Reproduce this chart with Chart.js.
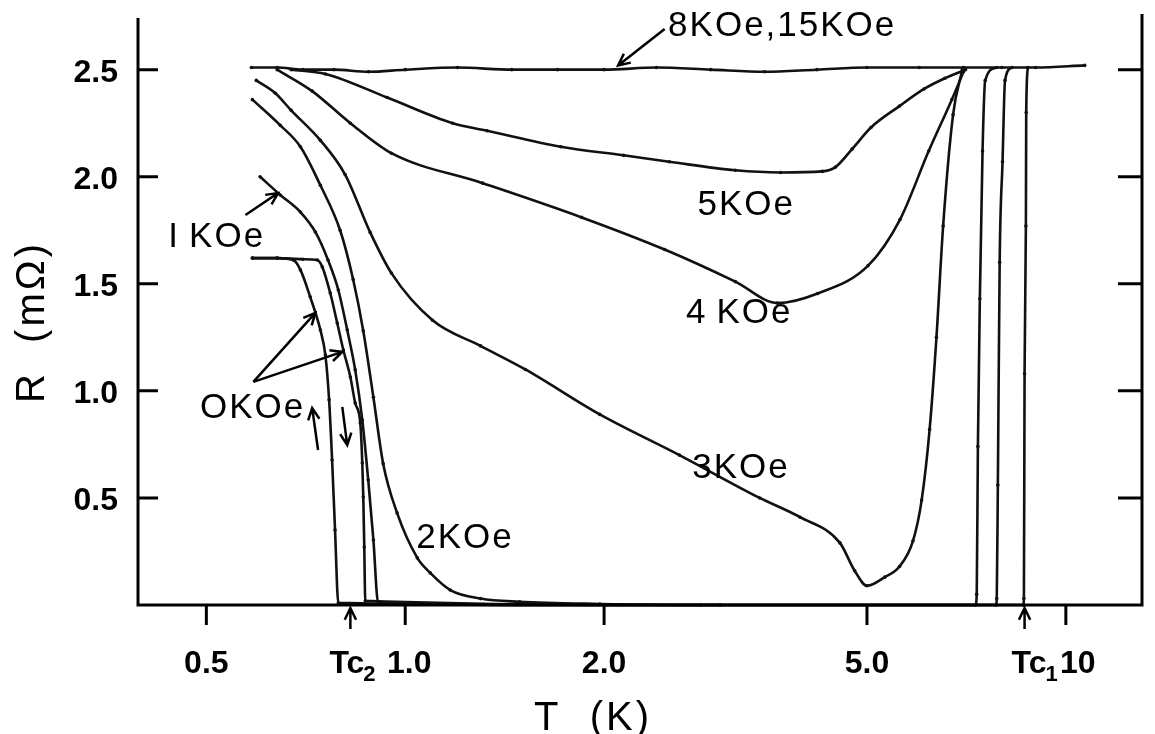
<!DOCTYPE html>
<html>
<head>
<meta charset="utf-8">
<script src="https://cdn.jsdelivr.net/npm/chart.js@4.4.1/dist/chart.umd.min.js"></script>
<style>
  html, body { margin: 0; padding: 0; background: #fff; }
</style>
</head>
<body>
<canvas id="rtChart" width="1155" height="734"></canvas>
<script>
// R (mOhm) vs T (K)
const t8k15k = [0.585, 0.64, 0.70, 0.78, 0.88, 1.0, 1.2, 1.45, 1.7, 2.0, 2.4, 2.9, 3.5, 4.2, 5.0, 6.0, 7.0, 8.0, 9.0, 10.68];
const r8k15k = [2.51, 2.51, 2.50, 2.50, 2.49, 2.50, 2.51, 2.50, 2.50, 2.50, 2.51, 2.50, 2.49, 2.50, 2.51, 2.51, 2.51, 2.51, 2.51, 2.52];

const t5k = [0.672, 0.757, 0.939, 1.18, 1.33, 1.72, 2.14, 2.51, 3.16, 3.70, 4.28, 4.48, 4.75, 5.07, 5.6, 6.1, 6.56, 7.05];
const r5k = [2.50, 2.48, 2.37, 2.25, 2.215, 2.14, 2.10, 2.07, 2.03, 2.02, 2.025, 2.045, 2.13, 2.23, 2.33, 2.41, 2.46, 2.50];

const t4k = [0.64, 0.723, 0.826, 0.953, 1.31, 1.85, 2.47, 3.16, 3.66, 4.21, 5.02, 5.61, 6.2, 6.72, 7.0];
const r4k = [2.50, 2.40, 2.25, 2.11, 1.97, 1.81, 1.66, 1.51, 1.41, 1.455, 1.585, 1.80, 2.12, 2.36, 2.49];

const t3k = [0.595, 0.636, 0.672, 0.744, 0.811, 0.885, 0.953, 1.10, 1.30, 1.52, 1.97, 2.60, 3.44, 3.96, 4.55, 4.79, 5.0, 5.32, 5.6, 5.87, 6.05, 6.22, 6.37, 6.52, 6.75, 6.97];
const r3k = [2.45, 2.39, 2.31, 2.17, 2.01, 1.74, 1.55, 1.33, 1.21, 1.10, 0.89, 0.70, 0.50, 0.41, 0.29, 0.16, 0.09, 0.13, 0.18, 0.30, 0.49, 0.82, 1.25, 1.77, 2.29, 2.50];

const t2k = [0.587, 0.647, 0.694, 0.744, 0.797, 0.834, 0.864, 0.895, 0.926, 0.972, 1.043, 1.091, 1.17, 1.30, 1.49, 1.97, 2.8, 7.30, 7.33, 7.36, 7.41, 7.48, 7.55, 7.86];
const r2k = [2.36, 2.24, 2.14, 1.96, 1.75, 1.52, 1.28, 0.97, 0.66, 0.43, 0.22, 0.15, 0.07, 0.03, 0.015, 0.005, 0, 0, 0.05, 0.74, 1.43, 2.12, 2.45, 2.51];

const t1k = [0.603, 0.647, 0.694, 0.731, 0.764, 0.792, 0.817, 0.840, 0.861, 0.879, 0.895, 0.910, 2.0, 7.84, 7.86, 7.89, 7.94, 8.02, 8.09, 8.29];
const r1k = [2.0, 1.915, 1.835, 1.742, 1.611, 1.471, 1.284, 1.098, 0.864, 0.584, 0.304, 0.01, 0, 0, 0.03, 0.56, 1.60, 2.07, 2.45, 2.51];

// 0 KOe, cooling branch (up arrow) and warming branch (down arrow)
const t0kUp = [0.587, 0.64, 0.677, 0.694, 0.718, 0.744, 0.757, 0.767, 0.775, 0.783, 0.792, 2.0, 8.62, 8.64, 8.66, 8.70, 8.71, 8.76];
const r0kUp = [1.62, 1.62, 1.611, 1.565, 1.439, 1.284, 1.168, 0.958, 0.677, 0.350, 0.01, 0, 0, 0.03, 1.08, 1.77, 2.30, 2.51];
const t0kDown = [0.587, 0.64, 0.70, 0.736, 0.749, 0.770, 0.789, 0.806, 0.826, 0.840, 0.855, 0.861, 0.864, 0.867, 0.870, 3.0];
const r0kDown = [1.62, 1.62, 1.615, 1.611, 1.579, 1.457, 1.317, 1.191, 1.065, 0.943, 0.850, 0.663, 0.504, 0.271, 0.02, 0];

const yTicks = [0.5, 1.0, 1.5, 2.0, 2.5];
const yTickLabels = ['0.5', '1.0', '1.5', '2.0', '2.5'];
const xTicks = [0.5, 1.0, 2.0, 5.0, 10];
const xTickLabels = ['0.5', '1.0', '2.0', '5.0', '10'];
const tc1 = 8.66;
const tc2 = 0.826;

function pts(t, r) {
    return t.map((v, i) => ({ x: v, y: r[i] }));
}

function curve(t, r) {
    return {
        data: pts(t, r),
        borderColor: '#111',
        borderWidth: 2.6,
        pointRadius: 1.8,
        pointBackgroundColor: '#111',
        pointBorderWidth: 0,
        cubicInterpolationMode: 'monotone',
        fill: false,
        clip: false
    };
}

// curve labels, placed in data coordinates (T, R) at text baseline-left
const curveLabels = [
    { text: '8KOe,15KOe', t: 2.50, r: 2.655 },
    { text: '5KOe', t: 2.77, r: 1.82 },
    { text: '4\u2009KOe', t: 2.66, r: 1.317 },
    { text: '3KOe', t: 2.72, r: 0.593 },
    { text: '2KOe', t: 1.039, r: 0.266 },
    { text: 'I\u2009KOe', t: 0.438, r: 1.672 },
    { text: 'OKOe', t: 0.489, r: 0.873 }
];

// arrows: from (t1, r1) to (t2, r2), head at the end
const arrows = [
    [2.47, 2.69, 2.10, 2.52],
    [0.573, 1.821, 0.642, 1.924],
    [0.589, 1.042, 0.731, 1.364],
    [0.589, 1.042, 0.803, 1.182],
    [0.738, 0.724, 0.723, 0.920],
    [0.803, 0.925, 0.817, 0.747]
];

function arrow(ctx, x1, y1, x2, y2) {
    const a = Math.atan2(y2 - y1, x2 - x1);
    const h = 13;
    ctx.beginPath();
    ctx.moveTo(x1, y1);
    ctx.lineTo(x2, y2);
    ctx.moveTo(x2 - h * Math.cos(a - 0.45), y2 - h * Math.sin(a - 0.45));
    ctx.lineTo(x2, y2);
    ctx.lineTo(x2 - h * Math.cos(a + 0.45), y2 - h * Math.sin(a + 0.45));
    ctx.stroke();
}

const framePlugin = {
    id: 'frame',
    afterDraw(chart) {
        const { ctx, chartArea: a, scales: { x, y } } = chart;
        ctx.save();
        ctx.strokeStyle = '#000';
        ctx.fillStyle = '#000';
        ctx.lineWidth = 3;

        // axes: left, bottom, right (no top border)
        ctx.beginPath();
        ctx.moveTo(a.left, a.top + 4);
        ctx.lineTo(a.left, a.bottom);
        ctx.lineTo(a.right, a.bottom);
        ctx.lineTo(a.right, a.top);
        ctx.stroke();

        // y ticks, inward on both sides
        yTicks.forEach(v => {
            const py = y.getPixelForValue(v);
            ctx.beginPath();
            ctx.moveTo(a.left, py); ctx.lineTo(a.left + 20, py);
            ctx.moveTo(a.right - 24, py); ctx.lineTo(a.right, py);
            ctx.stroke();
        });
        // x ticks, outward
        xTicks.forEach(v => {
            const px = x.getPixelForValue(v);
            ctx.beginPath();
            ctx.moveTo(px, a.bottom); ctx.lineTo(px, a.bottom + 20);
            ctx.stroke();
        });

        // tick labels
        ctx.font = 'bold 32px "Liberation Sans", Arial, sans-serif';
        ctx.textBaseline = 'middle';
        ctx.textAlign = 'right';
        yTicks.forEach((v, i) => {
            ctx.fillText(yTickLabels[i], a.left - 20, y.getPixelForValue(v) + 3);
        });
        ctx.textBaseline = 'alphabetic';
        ctx.textAlign = 'center';
        xTicks.forEach((v, i) => {
            let px = x.getPixelForValue(v);
            if (xTickLabels[i] === '1.0') px += 4;
            if (xTickLabels[i] === '10') px += 12;
            ctx.fillText(xTickLabels[i], px, a.bottom + 68);
        });

        // Tc markers below the axis
        ctx.lineWidth = 2.5;
        [tc1, tc2].forEach(t => {
            const px = x.getPixelForValue(t);
            arrow(ctx, px, a.bottom + 24, px, a.bottom + 3);
        });
        ctx.textAlign = 'left';
        [[tc2, '2', -21], [tc1, '1', -13]].forEach(([t, sub, dx]) => {
            const px = x.getPixelForValue(t) + dx;
            ctx.font = 'bold 32px "Liberation Sans", Arial, sans-serif';
            ctx.fillText('Tc', px, a.bottom + 68);
            const w = ctx.measureText('Tc').width;
            ctx.font = 'bold 22px "Liberation Sans", Arial, sans-serif';
            ctx.fillText(sub, px + w - 1, a.bottom + 76);
        });

        // axis titles
        ctx.font = '40px "Liberation Sans", Arial, sans-serif';
        ctx.letterSpacing = '3px';
        ctx.textAlign = 'center';
        ctx.fillText('T  (K)', 593, 730);
        ctx.save();
        ctx.translate(44, 322);
        ctx.rotate(-Math.PI / 2);
        ctx.fillText('R  (m\u03A9)', 0, 0);
        ctx.restore();

        // curve labels
        ctx.font = '35px "Liberation Sans", Arial, sans-serif';
        ctx.letterSpacing = '2px';
        ctx.textAlign = 'left';
        curveLabels.forEach(l => {
            ctx.fillText(l.text, x.getPixelForValue(l.t), y.getPixelForValue(l.r));
        });
        ctx.letterSpacing = '0px';

        // arrows pointing at curves
        ctx.lineWidth = 2.5;
        arrows.forEach(([t1, r1, t2, r2]) => {
            arrow(ctx, x.getPixelForValue(t1), y.getPixelForValue(r1),
                x.getPixelForValue(t2), y.getPixelForValue(r2));
        });
        ctx.restore();
    }
};

const ctx = document.getElementById('rtChart').getContext('2d');
new Chart(ctx, {
    type: 'line',
    data: {
        datasets: [
            curve(t8k15k, r8k15k),
            curve(t5k, r5k),
            curve(t4k, r4k),
            curve(t3k, r3k),
            curve(t2k, r2k),
            curve(t1k, r1k),
            curve(t0kUp, r0kUp),
            curve(t0kDown, r0kDown)
        ]
    },
    options: {
        responsive: false,
        animation: false,
        events: [],
        layout: { padding: { left: 138, right: 13, top: 14, bottom: 129 } },
        scales: {
            x: { type: 'logarithmic', min: 0.394, max: 13.04, display: false },
            y: { type: 'linear', min: 0, max: 2.76, display: false }
        },
        plugins: {
            legend: { display: false },
            tooltip: { enabled: false }
        }
    },
    plugins: [framePlugin]
});
</script>
</body>
</html>
